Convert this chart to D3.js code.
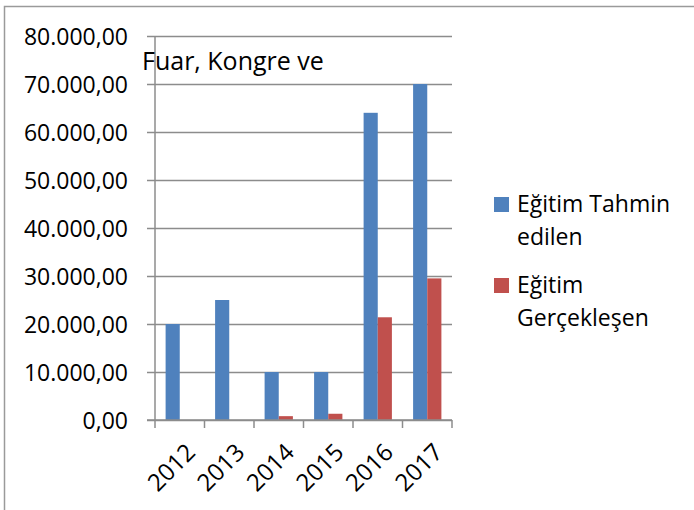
<!DOCTYPE html>
<html>
<head>
<meta charset="utf-8">
<script src="https://cdn.jsdelivr.net/npm/d3@7"></script>
<style>
  body { margin: 0; background: #fff; }
  svg text { font-family: "Open Sans", sans-serif; fill: #000; }
</style>
</head>
<body>
<svg width="694" height="510"></svg>
<script>
var years = ["2012", "2013", "2014", "2015", "2016", "2017"];
var tahmin = [20000, 25000, 10000, 10000, 64000, 70000];
var gerceklesen = [0, 0, 800, 1300, 21400, 29500];
var seriesNames = ["Eğitim Tahmin edilen", "Eğitim Gerçekleşen"];
var legendLines = [["Eğitim Tahmin", "edilen"], ["Eğitim", "Gerçekleşen"]];
var colors = ["#4F81BD", "#C0504D"];
var yTicks = [0, 10000, 20000, 30000, 40000, 50000, 60000, 70000, 80000];
var title = "Fuar, Kongre ve";

var svg = d3.select("svg");
var fontSize = 23;
var grid = "#8c8c8c";

// frame round the chart
svg.append("rect")
  .attr("x", 4.5).attr("y", 6.5)
  .attr("width", 720).attr("height", 540)
  .attr("fill", "none").attr("stroke", "#9a9a9a").attr("stroke-width", 1.5);

var pLeft = 155, pRight = 452, pTop = 36, pBottom = 420;

var x = d3.scaleBand().domain(years).range([pLeft, pRight]);
var xSub = d3.scaleBand().domain([0, 1]).range([0, x.bandwidth()]).paddingOuter(0.75);
var y = d3.scaleLinear().domain([0, 80000]).range([pBottom, pTop]);

var fmt = function(v) {
  var s = d3.format(",.2f")(v);
  return s.replace(/,/g, "#").replace(".", ",").replace(/#/g, ".");
};

// y axis with gridlines
var yAxis = svg.append("g")
  .attr("transform", "translate(" + pLeft + ",0)")
  .call(d3.axisLeft(y).tickValues(yTicks).tickSize(8).tickFormat(fmt));
yAxis.select(".domain").remove();
yAxis.selectAll("line").attr("stroke", grid).attr("stroke-width", 1.5).attr("x2", pRight - pLeft).attr("x1", -8);
yAxis.selectAll("text").style("font-size", fontSize + "px").attr("dy", "0.35em").attr("x", -27);

svg.append("line")
  .attr("x1", pLeft).attr("x2", pLeft).attr("y1", pTop).attr("y2", pBottom)
  .attr("stroke", grid).attr("stroke-width", 1.5);

// bars
var data = years.map(function(d, i) { return { year: d, vals: [tahmin[i], gerceklesen[i]] }; });
var groups = svg.selectAll(".grp").data(data).enter().append("g")
  .attr("transform", function(d) { return "translate(" + x(d.year) + ",0)"; });
groups.selectAll("rect").data(function(d) { return d.vals; }).enter().append("rect")
  .attr("x", function(d, i) { return xSub(i); })
  .attr("y", function(d) { return y(d); })
  .attr("width", xSub.bandwidth())
  .attr("height", function(d) { return pBottom - y(d); })
  .attr("fill", function(d, i) { return colors[i]; });

// x axis
var xAxis = svg.append("g").attr("transform", "translate(0," + pBottom + ")")
  .call(d3.axisBottom(x).tickSize(0).tickFormat(""));
xAxis.select(".domain").attr("stroke", grid).attr("stroke-width", 1.5).attr("d", "M" + (pLeft - 8) + ",0H" + pRight);
var bounds = years.map(function(d) { return x(d); }).concat([pRight]);
svg.selectAll(".xtick").data(bounds).enter().append("line")
  .attr("x1", function(d) { return d; }).attr("x2", function(d) { return d; })
  .attr("y1", pBottom).attr("y2", pBottom + 8)
  .attr("stroke", grid).attr("stroke-width", 1.5);
svg.selectAll(".xlab").data(years).enter().append("text")
  .attr("transform", function(d) { return "translate(" + (x(d) + x.bandwidth() / 2 + 5) + "," + (pBottom + 22) + ") rotate(-45)"; })
  .attr("text-anchor", "end")
  .attr("dy", "0.7em")
  .style("font-size", "24px")
  .text(function(d) { return d; });

// title
svg.append("text").attr("x", 142).attr("y", 69.5)
  .style("font-size", "25px").text(title);

// legend
var leg = svg.selectAll(".leg").data(seriesNames).enter().append("g")
  .attr("transform", function(d, i) { return "translate(494," + (i === 0 ? 197 : 278) + ")"; });
leg.append("rect").attr("width", 15).attr("height", 15)
  .attr("fill", function(d, i) { return colors[i]; });
leg.each(function(d, i) {
  var g = d3.select(this);
  legendLines[i].forEach(function(t, j) {
    g.append("text").attr("x", 23).attr("y", 15 + j * 32.5)
      .style("font-size", fontSize + "px").text(t);
  });
});
</script>
</body>
</html>
